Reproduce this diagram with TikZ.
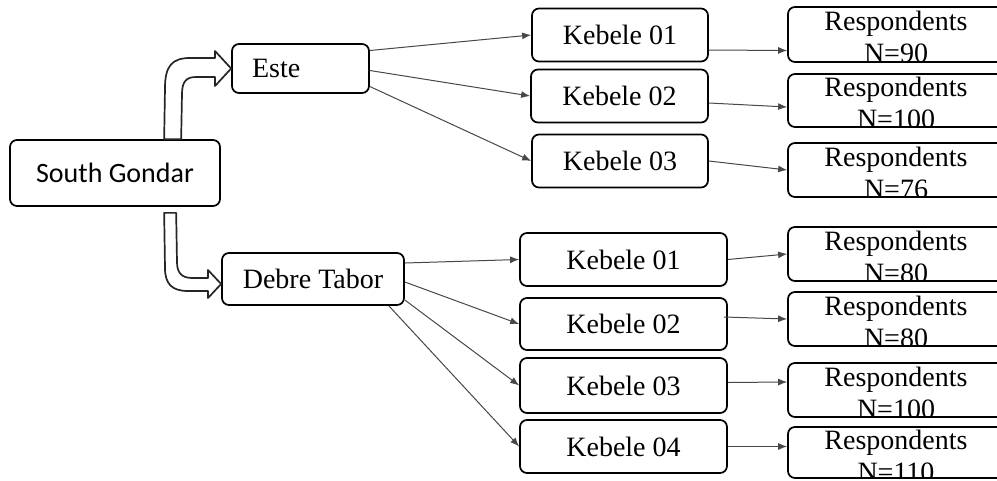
\documentclass[tikz,border=0pt]{standalone}
\usepackage{fontspec}
\setmainfont{Liberation Serif}
\newfontfamily\zonefont{Carlito}
\usetikzlibrary{positioning,arrows.meta}

\begin{document}
\begin{tikzpicture}[x=1pt,y=-1pt,
  box/.style={rectangle,draw,line width=1.7pt,rounded corners=7pt,inner sep=0pt,
    font=\fontsize{28}{32}\selectfont},
  kebele/.style={box,minimum height=53pt},
  resp/.style 2 args={box,minimum width=216pt,minimum height=#1,
    path picture={\node[anchor=north,inner sep=0pt,align=center,font=\fontsize{28}{32}\selectfont]
      at ([yshift=-2pt]path picture bounding box.north) {Respondents\\N=#2};}},
  link/.style={draw=black!72,line width=1pt,-{Latex[length=9pt,width=7pt]}},
  hollow/.style={draw=black!85,line width=1.7pt,fill=white,line join=round}]
  \useasboundingbox (0,0) rectangle (997,480);

  % zone and woredas
  \node[box,minimum width=210pt,minimum height=66pt,font=\zonefont\fontsize{28}{32}\selectfont] (sg) at (115,173) {South Gondar};
  \node[box,minimum height=49pt,text width=97pt,inner xsep=20pt,align=left] (este) at (300.5,68.5) {Este};
  \node[box,minimum width=182pt,minimum height=52pt] (dt) at (313,279) {Debre Tabor};

  % kebeles of Este
  \node[kebele,minimum width=176pt] (tk1) at (620,35) {Kebele 01};
  \node[kebele,minimum width=177pt] (tk2) at (619.5,96) {Kebele 02};
  \node[kebele,minimum width=176pt] (tk3) at (620,161) {Kebele 03};

  % kebeles of Debre Tabor
  \node[kebele,minimum width=207pt] (bk1) at (623.5,259.5) {Kebele 01};
  \node[kebele,minimum width=207pt,minimum height=52pt] (bk2) at (623.5,324) {Kebele 02};
  \node[kebele,minimum width=207pt,minimum height=55pt] (bk3) at (623.5,385.5) {Kebele 03};
  \node[kebele,minimum width=207pt] (bk4) at (623.5,446.5) {Kebele 04};

  % respondents
  \node[resp={55pt}{90}] (r1) at (896,34.5) {};
  \node[resp={53pt}{100}] (r2) at (896,100.5) {};
  \node[resp={54pt}{76}] (r3) at (896,170) {};
  \node[resp={54pt}{80}] (r4) at (896,254) {};
  \node[resp={54pt}{80}] (r5) at (896,319) {};
  \node[resp={54pt}{100}] (r6) at (896,390) {};
  \node[resp={51pt}{110}] (r7) at (896,452.5) {};

  % hollow bent arrows
  \draw[hollow] ([xshift=155pt]sg.north west) -- (165,88) .. controls (165,66) and (172,58) .. (190,58)
    -- (215,58) -- (215,51) -- (este.west) -- (215,86) -- (215,77) -- (196,77)
    .. controls (186,77) and (182,82) .. (182,94) -- ([xshift=172pt]sg.north west) -- cycle;
  \draw[hollow] ([xshift=155pt,yshift=-6pt]sg.south west) -- (165,268) .. controls (165,284) and (172,291) .. (188,291)
    -- (208,291) -- (208,298) -- ([yshift=-5pt]dt.west) -- (208,270) -- (208,278) -- (192,278)
    .. controls (181,278) and (177,272) .. (177,262) -- ([xshift=167pt,yshift=-6pt]sg.south west) -- cycle;

  % woreda to kebele
  \draw[link] ([yshift=18pt]este.east) -- (tk1.west);
  \draw[link] ([yshift=-2pt]este.east) -- (tk2.west);
  \draw[link] ([yshift=-18pt]este.east) -- (tk3.west);
  \draw[link] ([yshift=16pt]dt.east) -- (bk1.west);
  \draw[link] ([yshift=-3pt]dt.east) -- (bk2.west);
  \draw[link] ([yshift=-21pt]dt.east) -- (bk3.west);
  \draw[link] ([xshift=-16pt]dt.south east) -- (bk4.west);

  % kebele to respondents
  \draw[link] ([yshift=-15pt]tk1.east) -- ([yshift=-16pt]r1.west);
  \draw[link] ([yshift=-7pt]tk2.east) -- ([yshift=-6.5pt]r2.west);
  \draw[link] (tk3.east) -- (r3.west);
  \draw[link] (bk1.east) -- (r4.west);
  \draw[link] ([xshift=-4pt,yshift=7pt]bk2.east) -- (r5.west);
  \draw[link] ([yshift=3pt]bk3.east) -- ([yshift=8pt]r6.west);
  \draw[link] (bk4.east) -- ([yshift=6pt]r7.west);
\end{tikzpicture}
\end{document}
